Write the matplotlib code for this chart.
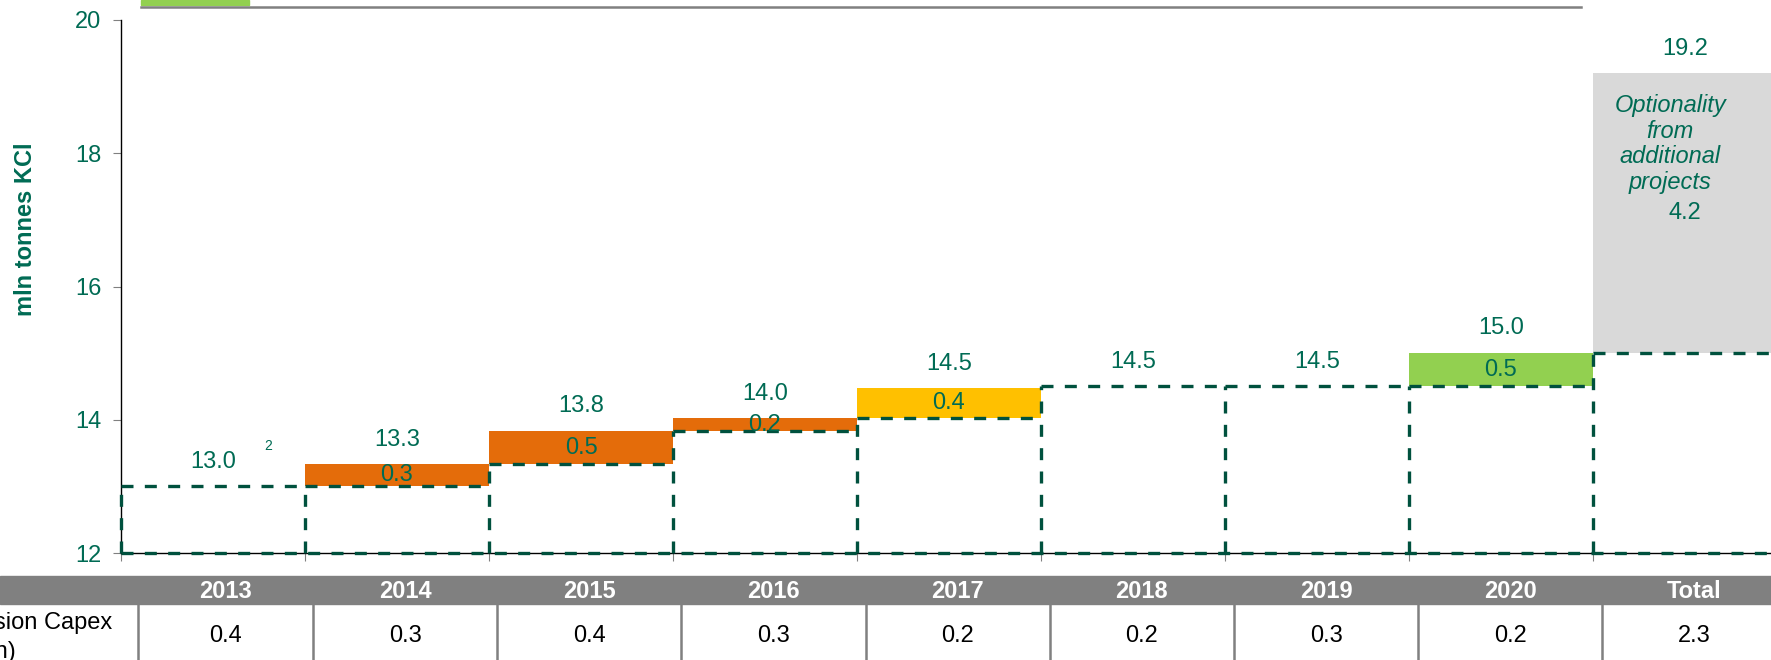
import matplotlib
matplotlib.use("Agg")
import matplotlib.pyplot as plt
from matplotlib.patches import Rectangle

plt.rcParams['font.family'] = ['Liberation Sans', 'DejaVu Sans']

years = ['2013', '2014', '2015', '2016', '2017', '2018', '2019', '2020']
box_tops = [13.0, 13.0, 13.33, 13.83, 14.02, 14.5, 14.5, 14.5]
levels = [13.0, 13.33, 13.83, 14.02, 14.47, 14.5, 14.5, 15.0]
level_labels = ['13.0', '13.3', '13.8', '14.0', '14.5', '14.5', '14.5', '15.0']
step_labels = ['', '0.3', '0.5', '0.2', '0.4', '', '', '0.5']
step_kind = ['', 'brownfield', 'brownfield', 'brownfield', 'debottleneck', '', '', 'greenfield']

total_base = 15.0
total_top = 19.2
total_label = '19.2'
option_label = '4.2'
option_text = 'Optionality\nfrom\nadditional\nprojects'

table_cols = years + ['Total']
capex = ['0.4', '0.3', '0.4', '0.3', '0.2', '0.2', '0.3', '0.2', '2.3']
row_label = ['Expansion Capex', '(USD bn)']

GREEN_TXT = '#006B54'
DASH_COL = '#00513E'
colors = {'brownfield': '#E46C0A', 'debottleneck': '#FFC000', 'greenfield': '#92D050'}
dash = (0, (3.6, 3.4))
FS = 17

fig = plt.figure(figsize=(17.71, 6.6), dpi=100)
ax = fig.add_axes([121 / 1771, 1 - 553 / 660, 1656 / 1771, 533 / 660])
ax.set_xlim(0, 9)
ax.set_ylim(12, 20)

x = list(range(len(years)))
xc = [i + 0.5 for i in x]

# increments
for i in x:
    if step_kind[i]:
        ax.bar(xc[i], levels[i] - box_tops[i], bottom=box_tops[i], width=1.0,
               color=colors[step_kind[i]], zorder=2)
        ax.text(xc[i], (levels[i] + box_tops[i]) / 2, step_labels[i], ha='center', va='center',
                fontsize=FS, color=GREEN_TXT, zorder=5)
    ax.text(xc[i], levels[i] + 0.37, level_labels[i], ha='center', va='center',
            fontsize=FS, color=GREEN_TXT, zorder=5)

# dashed outline of existing capacity (drawn as lines so shared edges stay dashed)
tops = box_tops + [total_base]
ncol = len(tops)
ax.hlines(tops, range(ncol), [k + 1 for k in range(ncol)], colors=DASH_COL,
          linestyles=[dash], linewidth=2.4, zorder=3)
ax.hlines(12, 0, ncol, colors=DASH_COL, linestyles=[dash], linewidth=2.4, zorder=3, clip_on=False)
vtops = [max(tops[k - 1] if k > 0 else 12, tops[k]) for k in range(ncol)]
ax.vlines(range(ncol), 12, vtops, colors=DASH_COL, linestyles=[dash], linewidth=2.4,
          zorder=3, clip_on=False)

# optionality bar
ax.bar(8.5, total_top - total_base, bottom=total_base, width=1.0, color='#D9D9D9', zorder=2)
ax.text(8.5, total_top + 0.37, total_label, ha='center', va='center', fontsize=FS, color=GREEN_TXT)
ax.text(8.42, 18.14, option_text, ha='center', va='center', fontsize=FS, color=GREEN_TXT,
        style='italic', linespacing=1.15)
ax.text(8.5, (total_top + total_base) / 2, option_label, ha='center', va='center',
        fontsize=FS, color=GREEN_TXT)

ax.text(0.8, 13.6, '2', ha='center', va='center', fontsize=10, color=GREEN_TXT)

ax.set_yticks([12, 14, 16, 18, 20])
ax.set_xticks(range(10))
ax.set_xticklabels([])
ax.tick_params(axis='y', colors='#808080', labelcolor=GREEN_TXT, labelsize=FS, length=6, pad=8)
ax.tick_params(axis='x', colors='#808080', length=6)
for s in ['top', 'right']:
    ax.spines[s].set_visible(False)
ax.spines['left'].set_color('black')
ax.spines['bottom'].set_color('black')
ax.spines['left'].set_linewidth(1)
ax.spines['bottom'].set_linewidth(1)

fig.text(26 / 1771, 1 - 229 / 660, 'mln tonnes KCl', rotation=90, ha='center', va='center',
         fontsize=FS, fontweight='bold', color=GREEN_TXT)

# overlay in pixel units for the table and the legend remnant
ov = fig.add_axes([0, 0, 1, 1], zorder=-1)
ov.set_xlim(0, 1771)
ov.set_ylim(660, 0)
ov.axis('off')

ov.add_patch(Rectangle((141, 0), 108, 5, color='#92D050'))
ov.plot([141, 1581], [6.5, 6.5], color='#808080', lw=1.8)

ov.add_patch(Rectangle((0, 576), 1771, 28, color='#808080'))
edges = [138] + [313 + 184.2 * k for k in range(len(table_cols))]
for k, col in enumerate(table_cols):
    cx = (edges[k] + edges[k + 1]) / 2
    ov.text(cx, 591, col, ha='center', va='center', fontsize=FS, fontweight='bold', color='white')
    ov.text(cx, 636, capex[k], ha='center', va='center', fontsize=FS, color='black')
for e in edges:
    ov.plot([e, e], [604, 660], color='#808080', lw=1.8)
ov.text(112, 623, row_label[0], ha='right', va='center', fontsize=FS, color='black')
ov.text(16, 652, row_label[1], ha='right', va='center', fontsize=FS, color='black')

fig.savefig('out.png', dpi=100)
